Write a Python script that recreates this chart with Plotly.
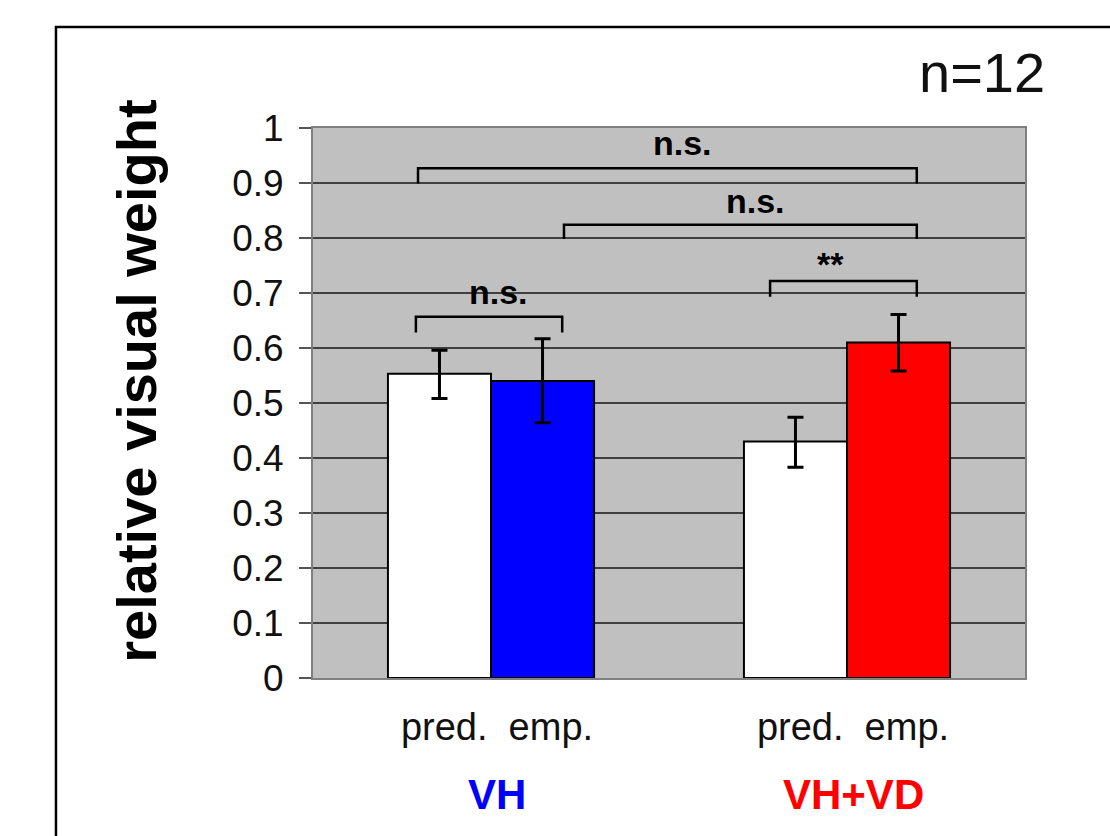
import plotly.graph_objects as go

# ---- data ----
categories = ["VH", "VH+VD"]
category_colors = ["#0000ff", "#ff0000"]
bar_labels = "pred.\u00a0\u00a0emp."
pred_values = [0.553, 0.430]
pred_err_plus = [0.043, 0.044]
pred_err_minus = [0.045, 0.047]
emp_values = [0.540, 0.610]
emp_err_plus = [0.077, 0.051]
emp_err_minus = [0.076, 0.052]
emp_colors = ["#0000ff", "#ff0000"]
y_ticks = [0, 0.1, 0.2, 0.3, 0.4, 0.5, 0.6, 0.7, 0.8, 0.9, 1]
sample_label = "n=12"
y_title = "relative visual weight"

# significance brackets: (x_start, x_end, y_top, y_leg, label, label_x, label_y)
brackets = [
    (-0.211, 0.200, 0.657, 0.628, "n.s.", 0.02, 0.701),
    (0.784, 1.196, 0.722, 0.693, "**", 0.955, 0.752),
    (0.205, 1.196, 0.824, 0.798, "n.s.", 0.744, 0.867),
    (-0.205, 1.196, 0.927, 0.899, "n.s.", 0.539, 0.972),
]

FONT = "Liberation Sans, Arial, sans-serif"

fig = go.Figure()
fig.add_trace(go.Bar(
    x=categories, y=pred_values, name="pred.",
    marker=dict(color="#ffffff", line=dict(color="#000000", width=2)),
    error_y=dict(type="data", symmetric=False, array=pred_err_plus,
                 arrayminus=pred_err_minus, color="#000000", thickness=3, width=8),
))
fig.add_trace(go.Bar(
    x=categories, y=emp_values, name="emp.",
    marker=dict(color=emp_colors, line=dict(color="#000000", width=2)),
    error_y=dict(type="data", symmetric=False, array=emp_err_plus,
                 arrayminus=emp_err_minus, color="#000000", thickness=3, width=8),
))

shapes = []
annotations = []
for x0, x1, yt, yl, lab, lx, ly in brackets:
    shapes.append(dict(type="path", xref="x", yref="y",
                       path=f"M {x0} {yl} L {x0} {yt} L {x1} {yt} L {x1} {yl}",
                       line=dict(color="#000000", width=2.5)))
    annotations.append(dict(x=lx, y=ly, xref="x", yref="y", text=f"<b>{lab}</b>",
                            showarrow=False, font=dict(family=FONT, size=34, color="#000000"),
                            xanchor="center", yanchor="middle"))

# outer frame
shapes.append(dict(type="rect", xref="paper", yref="paper",
                   x0=-0.361, x1=1.2, y0=-0.40, y1=1.1836,
                   line=dict(color="#000000", width=2.5), layer="below"))

# group labels
for cat, col in zip(categories, category_colors):
    annotations.append(dict(x=cat, y=-0.212, xref="x", yref="paper", xshift=6,
                            text=f"<b>{cat}</b>", showarrow=False,
                            font=dict(family=FONT, size=42, color=col),
                            xanchor="center", yanchor="middle"))

annotations.append(dict(x=1.031, y=1.10, xref="paper", yref="paper", text=sample_label,
                        showarrow=False, font=dict(family=FONT, size=56, color="#111111"),
                        xanchor="right", yanchor="middle"))
annotations.append(dict(x=-0.249, y=0.54, xref="paper", yref="paper", text=f"<b>{y_title}</b>",
                        showarrow=False, textangle=-90,
                        font=dict(family=FONT, size=56, color="#000000"),
                        xanchor="center", yanchor="middle"))

fig.update_layout(
    width=1110, height=836,
    margin=dict(l=313, r=85, t=128, b=158),
    paper_bgcolor="#ffffff", plot_bgcolor="#c0c0c0",
    barmode="group", bargap=0.421, bargroupgap=0,
    showlegend=False,
    shapes=shapes, annotations=annotations,
    font=dict(family=FONT, color="#000000"),
)
fig.update_xaxes(
    type="category", range=[-0.5, 1.5],
    tickvals=categories, ticktext=[bar_labels] * len(categories),
    tickfont=dict(family=FONT, size=38, color="#111111"),
    ticks="", ticklabelstandoff=14, ticklabelshift=6,
    showline=True, linecolor="#808080", linewidth=2, mirror=True, showgrid=False,
)
fig.update_yaxes(
    range=[0, 1], tickvals=y_ticks, ticktext=[f"{v:g}" for v in y_ticks],
    tickfont=dict(family=FONT, size=37, color="#111111"),
    ticks="outside", ticklen=12, tickcolor="#555555", tickwidth=2,
    ticklabelstandoff=8,
    showline=True, linecolor="#808080", linewidth=2, mirror=True,
    showgrid=True, gridcolor="#404040", gridwidth=1.5, zeroline=False,
)

fig.write_html("out.html")
